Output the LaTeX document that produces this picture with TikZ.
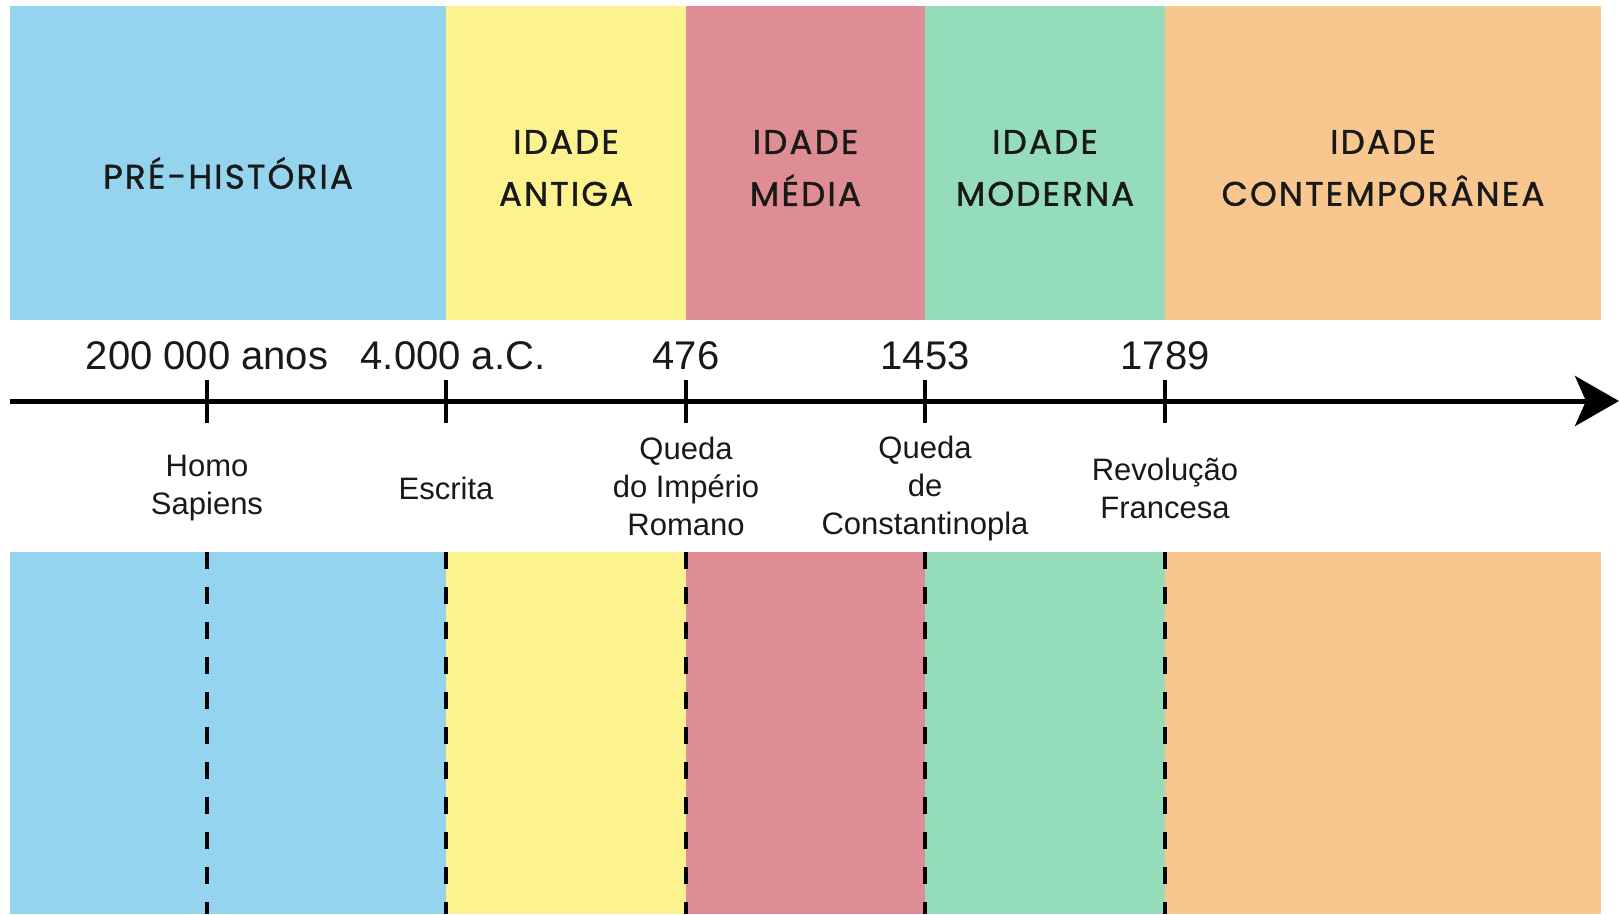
\documentclass[tikz,border=0pt]{standalone}
\usepackage{fontspec}
\setmainfont{Liberation Sans}
\newfontfamily\titlefont[LetterSpace=6.5, FakeBold=1.2]{Poppins}
\usetikzlibrary{arrows.meta}
\definecolor{cblue}{RGB}{148,212,239}
\definecolor{cyellow}{RGB}{252,243,143}
\definecolor{cred}{RGB}{223,141,148}
\definecolor{cgreen}{RGB}{148,220,186}
\definecolor{corange}{RGB}{248,199,143}
\tikzset{
  period/.style={font=\titlefont\fontsize{34}{52}\selectfont, align=center, inner sep=0pt, text=black!90},
  year/.style={font=\fontsize{40}{48}\selectfont, inner sep=0pt, text=black!90},
  event/.style={font=\fontsize{31}{38}\selectfont, align=center, inner sep=0pt, text=black!90},
  axisline/.style={line width=5pt, -{Stealth[length=44pt, width=50pt, inset=11pt]}},
  tickline/.style={line width=3.5pt},
  dashline/.style={line width=3.6pt, dash pattern=on 17pt off 18pt},
}
\begin{document}
\begin{tikzpicture}[x=1pt,y=-1pt]
\useasboundingbox (0,0) rectangle (1619,914);
\fill[white] (0,0) rectangle (1619,914);
% bands
\fill[cblue]   (10,6) rectangle (446,320);
\fill[cyellow] (446,6) rectangle (686,320);
\fill[cred]    (686,6) rectangle (925,320);
\fill[cgreen]  (925,6) rectangle (1165,320);
\fill[corange] (1165,6) rectangle (1601,320);
\fill[cblue]   (10,552) rectangle (446,914);
\fill[cyellow] (446,552) rectangle (686,914);
\fill[cred]    (686,552) rectangle (925,914);
\fill[cgreen]  (925,552) rectangle (1165,914);
\fill[corange] (1165,552) rectangle (1601,914);
% period titles
\node[period] (p1) at (228,173) {PRÉ-HISTÓRIA};
\node[period] (p2) at (566,168) {IDADE\\ANTIGA};
\node[period] (p3) at (805.5,168) {IDADE\\MÉDIA};
\node[period] (p4) at (1045,168) {IDADE\\MODERNA};
\node[period] (p5) at (1383,168) {IDADE\\CONTEMPORÂNEA};
% axis
\coordinate (axstart) at (10,401);
\coordinate (axend) at (1619,401);
\draw[axisline] (axstart) -- (axend);
% tick positions
\coordinate (t1) at (207,401);
\coordinate (t2) at (446,401);
\coordinate (t3) at (686,401);
\coordinate (t4) at (925,401);
\coordinate (t5) at (1165,401);
\foreach \t in {t1,t2,t3,t4,t5}{
  \draw[tickline] ([yshift=21pt]\t) -- ([yshift=-22pt]\t);
  \coordinate (\t top) at (\t |- 0,552);
  \coordinate (\t bot) at (\t |- 0,914);
  \draw[dashline] (\t top) -- (\t bot);
}
% years
\node[year] (y1) at (207,356) {200 000 anos};
\node[year] (y2) at (453,356) {4.000 a.C.};
\node[year] (y3) at (686,356) {476};
\node[year] (y4) at (925,356) {1453};
\node[year] (y5) at (1165,356) {1789};
% events
\node[event] (e1) at (207,488) {Homo\\Sapiens};
\node[event] (e2) at (446,488) {Escrita};
\node[event] (e3) at (686,486) {Queda\\do Império\\Romano};
\node[event] (e4) at (925,488) {Queda\\de\\Constantinopla};
\node[event] (e5) at (1165,488) {Revolução\\Francesa};
\end{tikzpicture}
\end{document}
